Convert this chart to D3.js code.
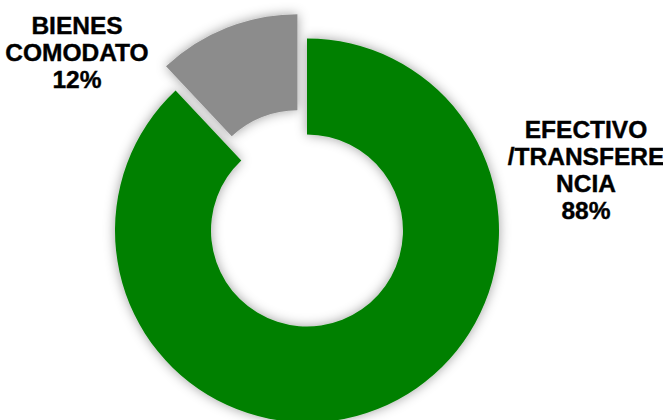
<!DOCTYPE html>
<html><head><meta charset="utf-8">
<script src="https://cdn.jsdelivr.net/npm/d3@7"></script>
<style>html,body{margin:0;padding:0;background:#fff;}svg{display:block;}</style>
</head><body>
<script>
const categories = ["EFECTIVO /TRANSFERENCIA", "BIENES COMODATO"];
const values = [88, 12];
const labelLines = [["EFECTIVO", "/TRANSFERE", "NCIA", "88%"], ["BIENES", "COMODATO", "12%"]];
const colors = ["#008000", "#8c8c8c"];

const W = 663, H = 420;
const cx = 307, cy = 230.5, rOuter = 192, rInner = 96, explode = [0, 26];
const svg = d3.select("body").append("svg").attr("width", W).attr("height", H);
const defs = svg.append("defs");
const f = defs.append("filter").attr("id", "sh").attr("x", "-20%").attr("y", "-20%").attr("width", "140%").attr("height", "140%");
f.append("feGaussianBlur").attr("in", "SourceAlpha").attr("stdDeviation", 6).attr("result", "b");
f.append("feFlood").attr("flood-color", "#000").attr("flood-opacity", 0.38);
f.append("feComposite").attr("in2", "b").attr("operator", "in").attr("result", "s");
const m = f.append("feMerge");
m.append("feMergeNode").attr("in", "s");
m.append("feMergeNode").attr("in", "SourceGraphic");

const pie = d3.pie().sort(null).value(d => d)(values);
const arc = d3.arc().innerRadius(rInner).outerRadius(rOuter);
const g = svg.append("g").attr("transform", `translate(${cx},${cy})`);
g.selectAll("path").data(pie).join("path")
  .attr("d", arc)
  .attr("fill", (d, i) => colors[i])
  .attr("filter", "url(#sh)")
  .attr("transform", (d, i) => {
    const a = (d.startAngle + d.endAngle) / 2;
    return `translate(${Math.sin(a) * explode[i]},${-Math.cos(a) * explode[i]})`;
  });

const labelPos = [[586, 137.5], [77, 33.5]];
labelLines.forEach((lines, i) => {
  const t = svg.append("text").attr("text-anchor", "middle")
    .attr("font-family", "'Liberation Sans', Arial, sans-serif")
    .attr("font-weight", "bold").attr("font-size", "24.5px").attr("fill", "#000")
    .attr("stroke", "#000").attr("stroke-width", 0.4);
  lines.forEach((l, j) => t.append("tspan").attr("x", labelPos[i][0]).attr("y", labelPos[i][1] + j * 27.3).text(l));
});
</script>
</body></html>
